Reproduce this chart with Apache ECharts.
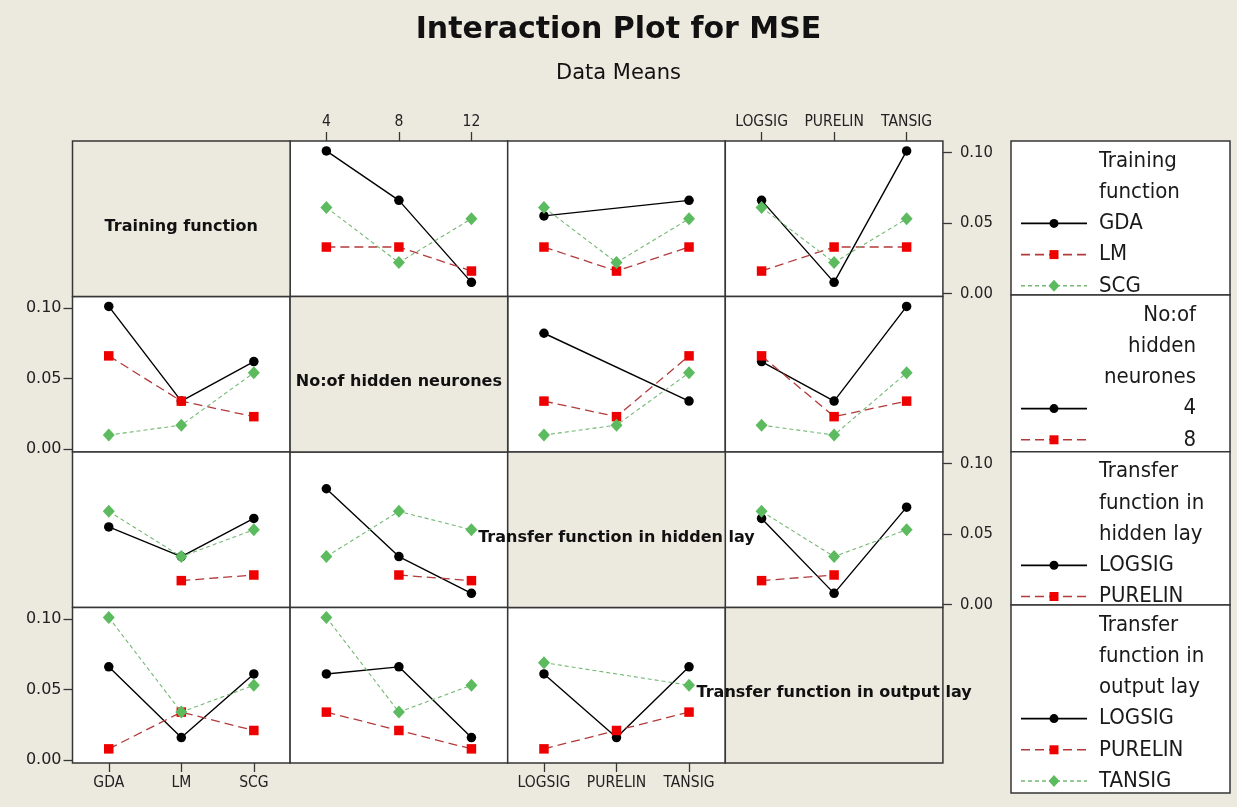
<!DOCTYPE html>
<html>
<head>
<meta charset="utf-8">
<title>Interaction Plot for MSE</title>
<script src="https://cdn.jsdelivr.net/npm/echarts@6/dist/echarts.min.js"></script>
<style>
  html, body { margin: 0; padding: 0; background: #ece9df; }
  #chart { width: 1237px; height: 807px; }
</style>
</head>
<body>
<div id="chart"></div>
<script>
// Factor levels
const trainingLevels = ['GDA', 'LM', 'SCG'];
const neuronLevels = ['4', '8', '12'];
const transferLevels = ['LOGSIG', 'PURELIN', 'TANSIG'];
const factorNames = [
  'Training function',
  'No:of hidden neurones',
  'Transfer function in hidden lay',
  'Transfer function in output lay'
];
const yTicks = [0, 0.05, 0.10];

// Mean MSE per panel: one row per trace level, one value per x level (null = no run)
// traces: training function
const neuronsByTraining  = [[0.101, 0.066, 0.008], [0.033, 0.033, 0.016], [0.061, 0.022, 0.053]];
const hiddenTfByTraining = [[0.055, null, 0.066],  [0.033, 0.016, 0.033], [0.061, 0.022, 0.053]];
const outputTfByTraining = [[0.066, 0.008, 0.101], [0.016, 0.033, 0.033], [0.061, 0.022, 0.053]];
// traces: hidden neurones
const trainingByNeurons  = [[0.101, 0.034, 0.062], [0.066, 0.034, 0.023], [0.010, 0.017, 0.054]];
const hiddenTfByNeurons  = [[0.082, null, 0.034],  [0.034, 0.023, 0.066], [0.010, 0.017, 0.054]];
const outputTfByNeurons  = [[0.062, 0.034, 0.101], [0.066, 0.023, 0.034], [0.017, 0.010, 0.054]];
// traces: transfer function in hidden layer
const trainingByHiddenTf = [[0.055, 0.034, 0.061], [null, 0.017, 0.021],  [0.066, 0.034, 0.053]];
const neuronsByHiddenTf  = [[0.082, 0.034, 0.008], [null, 0.021, 0.017],  [0.034, 0.066, 0.053]];
const outputTfByHiddenTf = [[0.061, 0.008, 0.069], [0.017, 0.021, null],  [0.066, 0.034, 0.053]];
// traces: transfer function in output layer
const trainingByOutputTf = [[0.066, 0.016, 0.061], [0.008, 0.034, 0.021], [0.101, 0.034, 0.053]];
const neuronsByOutputTf  = [[0.061, 0.066, 0.016], [0.034, 0.021, 0.008], [0.101, 0.034, 0.053]];
const hiddenTfByOutputTf = [[0.061, 0.016, 0.066], [0.008, 0.021, 0.034], [0.069, null, 0.053]];

const levelSets = [trainingLevels, neuronLevels, transferLevels, transferLevels];
const panels = [
  [null, neuronsByTraining, hiddenTfByTraining, outputTfByTraining],
  [trainingByNeurons, null, hiddenTfByNeurons, outputTfByNeurons],
  [trainingByHiddenTf, neuronsByHiddenTf, null, outputTfByHiddenTf],
  [trainingByOutputTf, neuronsByOutputTf, hiddenTfByOutputTf, null]
];

// ---- layout & style ----
const FONT = "'DejaVu Sans', Verdana, sans-serif";
const FONT_NARROW = "'DejaVu Sans Condensed', 'DejaVu Sans', sans-serif";
const BG = '#ece9df';
const FRAME = '#363636';
const CELL_W = 217.6, CELL_H = 155.5, LEFT0 = 72.5, TOP0 = 141;
const Y_MIN = -0.002, Y_MAX = 0.108;

const traceStyles = [
  { symbol: 'circle',  size: 9.5,      fill: '#000000', line: '#000000', dash: 'solid', width: 1.4 },
  { symbol: 'rect',    size: 9.5,      fill: '#ee0000', line: '#b23a3a', dash: [9, 5],  width: 1.3 },
  { symbol: 'diamond', size: [12, 13], fill: '#5cbb5f', line: '#74b874', dash: [4, 3],  width: 1.1 }
];

const grids = [], xAxes = [], yAxes = [], series = [], graphics = [];

for (let r = 0; r < 4; r++) {
  for (let c = 0; c < 4; c++) {
    const left = LEFT0 + c * CELL_W;
    const top = TOP0 + r * CELL_H;
    if (r === c) {
      graphics.push({
        type: 'rect', z: 1,
        shape: { x: left, y: top, width: CELL_W, height: CELL_H },
        style: { fill: BG, stroke: FRAME, lineWidth: 1.5 }
      });
      graphics.push({
        type: 'text', z: 100,
        x: left + CELL_W / 2, y: top + CELL_H / 2 + 8,
        style: {
          text: factorNames[r], fill: '#111',
          font: 'bold 16px ' + FONT, align: 'center', verticalAlign: 'middle'
        }
      });
      continue;
    }
    const gi = grids.length;
    const showX = (r === 0 && (c === 1 || c === 3)) || (r === 3 && (c === 0 || c === 2));
    const showY = (c === 0 && (r === 1 || r === 3)) || (c === 3 && (r === 0 || r === 2));
    grids.push({
      left: left, top: top, width: CELL_W, height: CELL_H,
      show: true, backgroundColor: '#ffffff', borderColor: FRAME, borderWidth: 1.5,
      containLabel: false, outerBoundsMode: 'none'
    });
    xAxes.push({
      gridIndex: gi, type: 'category', data: levelSets[c], boundaryGap: true,
      position: r === 0 ? 'top' : 'bottom',
      axisLine: { show: false, onZero: false },
      axisTick: { show: showX, alignWithLabel: true, length: 9, lineStyle: { color: FRAME, width: 1.3 } },
      axisLabel: { show: showX, interval: 0, margin: r === 0 ? 11 : 12, fontSize: 15.5, color: '#222', fontFamily: FONT_NARROW },
      splitLine: { show: false }
    });
    yAxes.push({
      gridIndex: gi, type: 'value', min: Y_MIN, max: Y_MAX,
      position: c === 0 ? 'left' : 'right',
      axisLine: { show: false, onZero: false },
      splitLine: { show: false },
      axisTick: { show: showY, length: 9, customValues: yTicks, lineStyle: { color: FRAME, width: 1.3 } },
      axisLabel: {
        show: showY, customValues: yTicks, margin: c === 0 ? 11 : 17,
        fontSize: c === 0 ? 16 : 16.5, color: '#222', fontFamily: c === 0 ? FONT : FONT_NARROW,
        formatter: v => v.toFixed(2)
      }
    });
    panels[r][c].forEach((values, t) => {
      const s = traceStyles[t];
      series.push({
        type: 'line', xAxisIndex: gi, yAxisIndex: gi,
        data: values, connectNulls: true, silent: true,
        symbol: s.symbol, symbolSize: s.size, showSymbol: true,
        itemStyle: { color: s.fill, borderWidth: 0 },
        lineStyle: { color: s.line, width: s.width, type: s.dash },
        z: 2 + t
      });
    });
  }
}

// ---- legend panel on the right ----
const LEG_X = 1011, LEG_W = 219;
const legendBlocks = [
  { top: 141,   height: 154,   name: factorNames[0], levels: trainingLevels, align: 'left' },
  { top: 295,   height: 156.7, name: factorNames[1], levels: neuronLevels,   align: 'right' },
  { top: 451.7, height: 153.3, name: factorNames[2], levels: transferLevels, align: 'left' },
  { top: 605,   height: 188,   name: factorNames[3], levels: transferLevels, align: 'left' }
];
const LEG_FONT = '22px ' + FONT_NARROW;
const measureCtx = document.createElement('canvas').getContext('2d');
measureCtx.font = LEG_FONT;
function wrapWords(text, maxW) {
  const words = text.split(' ');
  const lines = [];
  let cur = '';
  words.forEach(w => {
    const test = cur ? cur + ' ' + w : w;
    if (cur && measureCtx.measureText(test).width > maxW) { lines.push(cur); cur = w; }
    else cur = test;
  });
  if (cur) lines.push(cur);
  return lines;
}
function legendMarker(t, cx, cy, z) {
  const s = traceStyles[t];
  const out = [{
    type: 'line', z: z,
    shape: { x1: cx - 33, y1: cy, x2: cx + 33, y2: cy },
    style: { stroke: s.line, lineWidth: s.width + 0.3, lineDash: s.dash === 'solid' ? null : s.dash }
  }];
  if (s.symbol === 'circle') {
    out.push({ type: 'circle', z: z, shape: { cx: cx, cy: cy, r: 4.5 }, style: { fill: s.fill } });
  } else if (s.symbol === 'rect') {
    out.push({ type: 'rect', z: z, shape: { x: cx - 4.5, y: cy - 4.5, width: 9, height: 9 }, style: { fill: s.fill } });
  } else {
    out.push({ type: 'polygon', z: z, shape: { points: [[cx, cy - 6], [cx + 5.5, cy], [cx, cy + 6], [cx - 5.5, cy]] }, style: { fill: s.fill } });
  }
  return out;
}
legendBlocks.forEach((b, k) => {
  const zBox = 20 + 2 * k, zTxt = 21 + 2 * k;
  graphics.push({
    type: 'rect', z: zBox,
    shape: { x: LEG_X, y: b.top, width: LEG_W, height: b.height },
    style: { fill: '#ffffff', stroke: FRAME, lineWidth: 1.5 }
  });
  const nameLines = wrapWords(b.name, 124);
  const rows = nameLines.map(t => ({ text: t, trace: -1 }))
    .concat(b.levels.map((lv, i) => ({ text: lv, trace: i })));
  rows.forEach((row, i) => {
    const y = b.top + 20 + i * 31.2;
    graphics.push({
      type: 'text', z: zTxt,
      x: b.align === 'left' ? 1099 : 1196, y: y,
      style: { text: row.text, font: LEG_FONT, fill: '#1a1a1a', align: b.align, verticalAlign: 'middle' }
    });
    if (row.trace >= 0) legendMarker(row.trace, 1054, y, zTxt).forEach(e => graphics.push(e));
  });
});

const chart = echarts.init(document.getElementById('chart'));
chart.setOption({
  backgroundColor: BG,
  animation: false,
  textStyle: { fontFamily: FONT },
  title: [
    { text: 'Interaction Plot for MSE', left: 'center', top: 10,
      textStyle: { fontFamily: FONT, fontWeight: 'bold', fontSize: 30, color: '#111' } },
    { text: 'Data Means', left: 'center', top: 58,
      textStyle: { fontFamily: FONT, fontWeight: 'normal', fontSize: 21, color: '#111' } }
  ],
  grid: grids,
  xAxis: xAxes,
  yAxis: yAxes,
  series: series,
  graphic: { elements: graphics }
});
</script>
</body>
</html>
